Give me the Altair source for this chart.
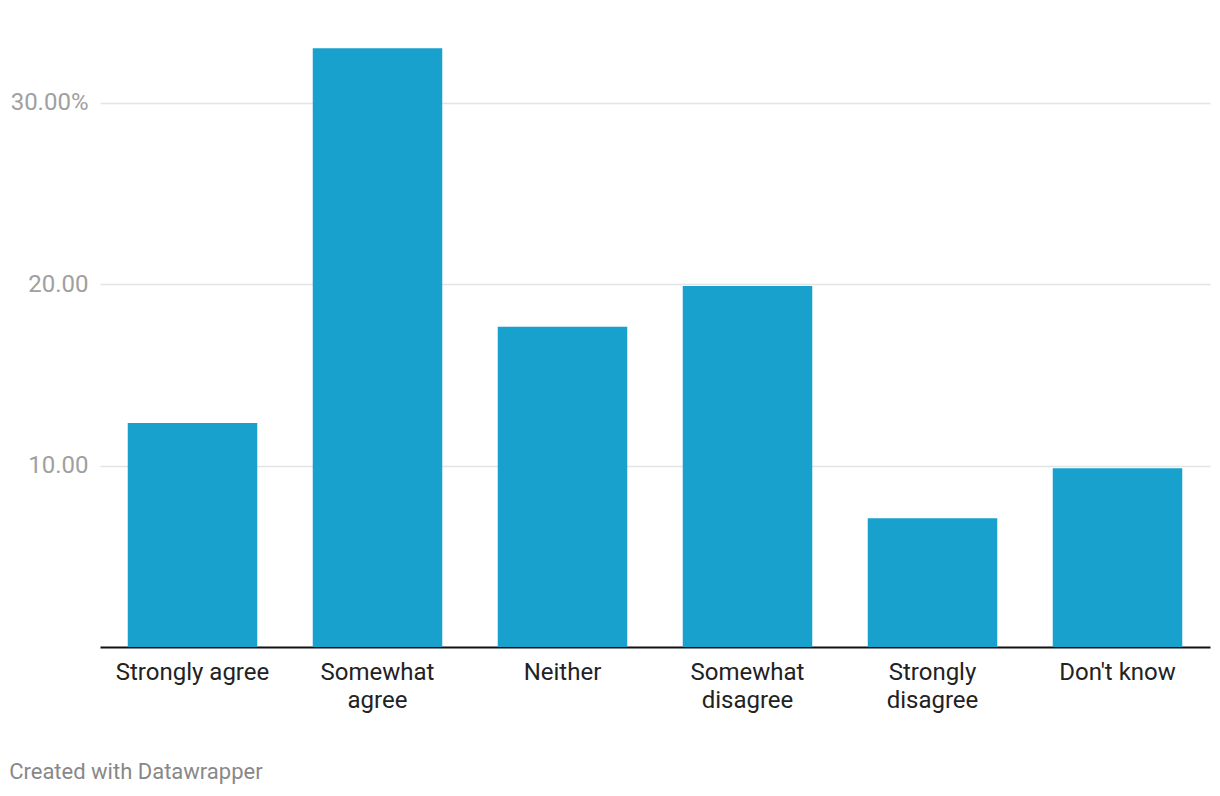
import altair as alt
import pandas as pd

categories = ["Strongly agree", "Somewhat agree", "Neither", "Somewhat disagree", "Strongly disagree", "Don't know"]
values = [12.35, 33.0, 17.65, 19.9, 7.1, 9.85]
label_lines = {
    "Somewhat agree": ["Somewhat", "agree"],
    "Somewhat disagree": ["Somewhat", "disagree"],
    "Strongly disagree": ["Strongly", "disagree"],
}
y_ticks = [10, 20, 30]

df = pd.DataFrame({"category": categories, "value": values})

label_expr = "datum.label"
for k, v in label_lines.items():
    label_expr = f"datum.label == \"{k}\" ? {v!r} : ({label_expr})"

chart = alt.Chart(df).mark_bar(color="#18a1cd").encode(
    x=alt.X("category:N", sort=categories, title=None,
            scale=alt.Scale(paddingInner=0.3, paddingOuter=0.15),
            axis=alt.Axis(labelAngle=0, labelFont="Roboto", labelFontSize=24,
                          labelColor="#222222", labelPadding=13, labelLineHeight=28,
                          ticks=False, domainColor="#111111", domainWidth=2,
                          labelExpr=label_expr, labelBaseline="top")),
    y=alt.Y("value:Q", title=None,
            scale=alt.Scale(domain=[0, 35], nice=False),
            axis=alt.Axis(values=y_ticks, grid=True, gridColor="#e4e4e4", gridWidth=1.5,
                          domain=False, ticks=False, labelFont="Roboto", labelFontSize=24,
                          labelColor="#a0a0a0", labelPadding=12,
                          labelExpr="datum.value == 30 ? '30.00%' : format(datum.value, '.2f')")),
).properties(
    width=1110, height=635,
    autosize=alt.AutoSizeParams(type="none"),
    padding={"left": 92, "top": 4, "right": 2, "bottom": 140},
    title=alt.TitleParams("Created with Datawrapper", orient="bottom", anchor="start",
                          dx=-1, offset=50, font="Roboto", fontSize=22,
                          fontWeight="normal", color="#888888"),
).configure_view(stroke=None)

chart.save("out.html", embed_options={"renderer": "svg", "actions": False})
